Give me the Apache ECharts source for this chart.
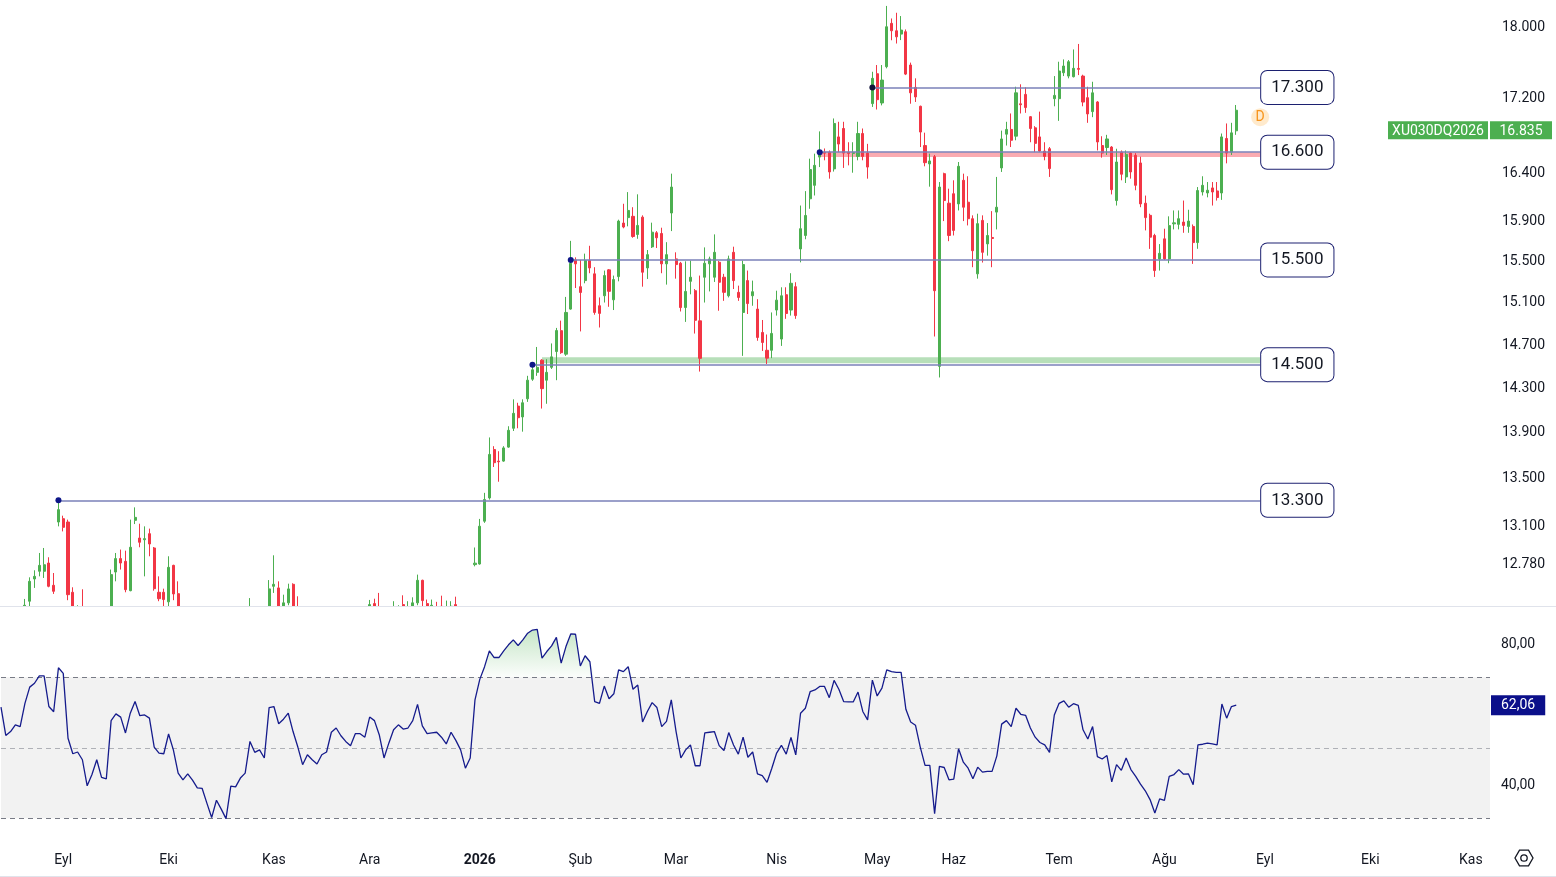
<!DOCTYPE html>
<html><head><meta charset="utf-8">
<script src="https://cdn.jsdelivr.net/npm/echarts@6/dist/echarts.min.js"></script>
<style>html,body{margin:0;padding:0;background:#fff}#c{width:1556px;height:877px}</style>
</head><body><div id="c"></div>
<script>
// ---- Daily candles of XU030DQ2026, each row: [open, close, low, high] ----
const candlesAug2025 = [
[12300,12350,12250,12400],[12340,12250,12200,12380],[12250,12270,12210,12320],[12270,12300,12240,12360],
[12300,12290,12230,12350],[12300,12440,12260,12490],[12472,12631,12430,12663],[12650,12671,12578,12720],
[12712,12760,12671,12861],[12712,12765,12658,12902],[12779,12591,12583,12826],[12599,12551,12530,12698],
[13117,13221,13081,13290]];
const candlesSep2025 = [
[13145,13073,13039,13170],[13117,12524,12480,13137],[12543,12300,12250,12583],[12250,12380,12200,12440],
[12390,12250,12200,12567],[12250,12000,11950,12300],[12000,12080,11950,12150],[12080,12200,12050,12260],
[12200,12050,12000,12250],[12050,12030,11980,12120],[12040,12685,12020,12726],[12706,12815,12631,12861],
[12815,12779,12726,12889],[12793,12564,12543,12880],[12556,12908,12551,13137],[13131,13156,13100,13240],
[12984,12949,12908,13103],[12970,12979,12671,13081],[13020,12935,12834,13062],[12902,12572,12556,12910],
[12543,12492,12472,12671],[12543,12485,12432,12572]];
const candlesOct2025 = [
[12467,12744,12400,12834],[12760,12530,12480,12765],[12532,12300,12250,12631],[12300,12220,12170,12350],
[12220,12260,12180,12320],[12260,12200,12150,12300],[12200,12130,12080,12250],[12130,12120,12060,12200],
[12120,11980,11940,12150],[11980,11820,11780,12000],[11820,11930,11800,11980],[11930,11860,11820,11970],
[11860,11740,11700,11900],[11750,11980,11720,12010],[11980,11975,11920,12040],[11975,12040,11940,12090],
[12040,12080,12000,12140],[12080,12380,12060,12497],[12380,12290,12250,12400],[12290,12310,12250,12380],
[12310,12250,12200,12350],[12260,12570,12240,12641]];
const candlesNov2025 = [
[12591,12607,12538,12842],[12578,12380,12350,12631],[12350,12459,12320,12524],[12459,12570,12440,12612],
[12607,12380,12350,12615],[12390,12300,12250,12511],[12300,12180,12150,12330],[12180,12240,12150,12290],
[12240,12200,12160,12280],[12200,12160,12110,12250],[12160,12230,12130,12270],[12230,12250,12190,12300],
[12250,12370,12230,12400],[12370,12395,12330,12410],[12395,12340,12300,12405],[12340,12300,12260,12370],
[12300,12270,12230,12340],[12270,12350,12250,12390],[12350,12355,12300,12400],[12355,12330,12290,12395]];
const candlesDec2025 = [
[12330,12445,12300,12482],[12453,12420,12380,12492],[12410,12300,12270,12538],[12300,12180,12150,12320],
[12180,12250,12160,12290],[12250,12330,12230,12472],[12330,12380,12300,12440],[12445,12360,12330,12519],
[12360,12400,12320,12472],[12390,12459,12360,12503],[12459,12639,12440,12685],[12639,12477,12424,12644],
[12453,12380,12350,12485],[12380,12440,12360,12485],[12420,12390,12340,12467],[12432,12380,12350,12516],
[12380,12400,12350,12477],[12400,12432,12380,12472],[12445,12400,12370,12508],[12400,12330,12290,12410],
[12330,12200,12160,12350],[12200,12260,12170,12300],[12766,12778,12752,12906]];
const candlesJan2026 = [
[12771,13082,12766,13143],[13124,13306,13110,13363],[13320,13694,13306,13843],[13737,13622,13585,13766],
[13636,13630,13458,13722],[13636,13751,13630,13766],[13758,13906,13752,13942],[13924,14057,13900,14183],
[14122,14018,13924,14152],[14025,14152,13894,14183],[14188,14357,14160,14397],[14366,14452,14351,14520],
[14429,14475,14397,14664],[14541,14280,14100,14550],[14357,14429,14143,14550],[14475,14572,14460,14697],
[14621,14818,14357,14843],[14817,14611,14600,14912],[14597,14990,14581,15139],[15022,15467,15016,15689],
[15500,15461,15225,15525]];
const candlesFeb2026 = [
[15238,15182,14810,15500],[15297,15493,15271,15562],[15493,15421,15369,15640],[15363,14990,14968,15428],
[15054,14981,14847,15134],[15150,15346,15085,15395],[15402,15193,15044,15410],[15111,15307,15013,15346],
[15336,15888,15290,15902],[15868,15828,15815,16064],[15923,15996,15835,16184],[15936,15733,15720,16029],
[15753,15844,15710,16161],[15928,15379,15238,15946],[15421,15552,15313,15598],[15629,15776,15618,15872],
[15770,15720,15618,15787],[15763,15461,15369,15821],[15461,15552,15258,15676],[15970,16236,15787,16375]];
const candlesMar2026 = [
[15510,15454,15316,15575],[15467,15037,14999,15480],[15037,15192,14900,15486],[15290,15330,15164,15493],
[15199,14915,14790,15215],[14910,14558,14436,15346],[15330,15467,15085,15624],[15461,15510,15192,15532],
[15330,15575,15284,15754],[15477,15281,15006,15490],[15330,15183,15101,15363],[15150,15510,15134,15542],
[15575,15297,15215,15631],[15183,15134,15101,15248],[14990,15454,14581,15493],[15297,15075,14975,15395],
[15150,15189,15054,15297],[15022,14753,14722,15117],[14800,14706,14627,14918],[14633,14560,14506,14781],
[14633,14791,14560,14990]];
const candlesApr2026 = [
[15013,15108,14960,15199],[14738,15150,14674,15232],[15160,14980,14929,15232],[15013,15271,14960,15369],
[15238,14960,14929,15281],[15609,15811,15476,16046],[15743,15945,15705,16194],[16115,16418,16013,16532],
[16254,16462,16149,16585],[16549,16601,16444,16822],[16600,16590,16515,16640],[16601,16393,16323,16619],
[16425,16907,16397,16961],[16763,16687,16601,16925],[16853,16591,16435,16925],[16598,16588,16462,16706],
[16588,16598,16385,16706],[16556,16799,16515,16925],[16799,16556,16515,16853],[16591,16444,16323,16689],
[17122,17400,17086,17473]];
const candlesMay2026 = [
[17451,17165,17058,17548],[17129,17381,17103,17548],[17529,17981,17511,18221],[18020,17935,17827,18076],
[17935,17866,17790,18142],[17897,17943,17829,18104],[17924,17447,17436,17950],[17548,17240,17121,17575],
[17300,17195,17140,17400],[17093,16815,16655,17100],[16671,16490,16452,16808],[16477,16508,16240,16585],
[16553,15199,14762,16571],[14484,16236,14382,16288],[16375,16097,15888,16385],[16070,15743,15686,16219]];
const candlesJun2026 = [
[16167,15794,15743,16306],[16063,16452,15996,16497],[16306,16029,15888,16375],[16080,15912,15844,16348],
[15912,15591,15428,15946],[15363,15862,15316,15963],[15895,15575,15474,15946],[15659,15743,15542,15868],
[15723,15713,15428,15989],[15979,16029,15804,16341],[16435,16741,16393,16830],[16792,16843,16671,16925],
[16843,16727,16655,17015],[16771,17240,16727,17307],[17120,17110,17015,17334],[17223,17079,17022,17300],
[16980,16853,16706,16987],[16860,16694,16601,16878],[16763,16612,16601,17035],[16612,16556,16515,16706],
[16637,16428,16341,16655],[17176,17212,17093,17425]];
const candlesJul2026 = [
[17176,17481,16935,17585],[17462,17537,17425,17611],[17425,17585,17400,17604],[17418,17511,17410,17723],
[17510,17500,17436,17785],[17425,17139,17093,17440],[17187,17010,16914,17307],[17035,17240,16975,17362],
[17140,16709,16619,17150],[16671,16591,16543,16770],[16650,16741,16571,16785],[16655,16209,16160,16665],
[16097,16497,16046,16637],[16601,16369,16306,16619],[16341,16577,16278,16619],[16591,16393,16323,16601],
[16567,16254,16203,16591],[16487,16063,16029,16553],[16070,15923,15794,16148],[15946,15726,15609,15963],
[15743,15395,15333,15760],[15510,15565,15395,15657]];
const candlesAug2026 = [
[15709,15510,15500,15811],[15510,15842,15467,15936],[15860,15870,15804,15996],[15855,15912,15804,15996],
[15878,15844,15770,16097],[15834,15888,15770,16003],[15834,15672,15461,15854],[15672,16200,15610,16236],
[16185,16254,16149,16348],[16175,16203,16130,16288],[16227,16185,16046,16288],[16196,16128,16097,16288],
[16175,16763,16104,16799],[16746,16591,16483,16907],[16601,16806,16571,16914],[16828,17050,16785,17107]];

// ---- RSI values per trading day ----
const rsiAug2025 = [61.5,53.5,54.6,56.5,56.0,62.6,67.2,68.3,70.4,70.4,61.7,60.2,72.7];
const rsiSep2025 = [71.1,52.7,48.3,48.8,46.6,39.2,42.4,46.6,41.6,41.2,57.7,59.6,58.7,54.2,59.8,63.1,59.1,59.3,58.4,50.2,48.5,48.3];
const rsiOct2025 = [53.9,49.4,42.8,40.9,42.6,40.8,38.6,38.5,34.3,30.2,35.1,32.6,29.9,39.1,38.9,41.4,42.8,51.8,48.7,49.4,47.1,61.4];
const rsiNov2025 = [61.7,56.8,58.1,59.8,54.6,50.2,45.2,48.0,46.6,45.4,48.0,48.8,54.4,55.6,53.4,51.8,50.6,54.0,54.0,53.0];
const rsiDec2025 = [58.7,57.7,53.7,47.1,51.3,55.1,56.5,55.3,55.6,57.7,62.3,56.2,54.0,54.2,54.4,53.0,51.1,54.4,52.1,49.4,44.2,47.1,63.6];
const rsiJan2026 = [69.4,73.0,77.5,75.6,75.6,77.5,79.2,80.6,79.0,80.6,82.5,83.4,83.6,75.4,77.3,78.9,81.3,74.0,78.7,82.3,82.2];
const rsiFeb2026 = [73.2,76.1,74.4,63.1,62.6,67.5,63.9,65.3,72.1,71.6,73.0,66.6,67.8,57.3,60.3,62.8,61.4,56.0,57.5,63.6];
const rsiMar2026 = [54.6,47.1,49.4,50.8,44.9,44.9,54.2,54.4,54.6,50.6,49.2,54.3,50.8,48.2,53.0,47.3,48.8,42.6,42.1,40.2,44.2];
const rsiApr2026 = [48.5,50.7,48.2,52.9,48.0,59.8,61.2,65.9,66.4,67.4,67.4,64.2,69.1,66.6,63.1,63.0,63.0,65.8,60.3,57.9,69.2];
const rsiMay2026 = [64.7,66.9,72.1,71.6,71.4,71.4,60.9,57.3,56.4,50.2,45.0,45.0,31.3,44.7,44.4,40.9];
const rsiJun2026 = [41.1,49.7,45.9,44.2,41.2,44.5,43.1,43.3,43.3,47.7,56.7,57.7,56.0,61.2,59.5,59.2,55.6,53.0,51.5,50.8,48.7,59.3];
const rsiJul2026 = [62.6,63.3,61.5,62.5,62.0,55.1,52.5,56.0,47.5,46.8,47.8,40.3,45.2,43.6,47.1,43.8,41.9,39.7,37.8,35.3,31.5,35.5];
const rsiAug2026 = [35.1,41.9,42.4,43.8,42.5,42.6,39.5,50.8,51.0,51.3,51.1,50.8,62.4,58.4,61.7,62.06];

// ---- axis / labels ----
const monthNames = ['Ağu','Eyl','Eki','Kas','Ara','2026','Şub','Mar','Nis','May','Haz','Tem','Ağu','Eyl','Eki','Kas'];
const monthTradingDays = [13,22,22,20,23,21,20,21,21,16,22,22,21,22,21,5];
const priceTicks = [12780,13100,13500,13900,14300,14700,15100,15500,15900,16400,17200,18000];
const rsiTicks = [40,80];
const priceRange = [12434,18290];
const rsiRange = [24.4,89.93];
const rsiLevels = [70,50,30];

// ---- annotations (price levels drawn from a start bar) ----
const levelPrices = [17300,16600,15500,14500,13300];
const levelStartBars = [182,171,119,111,12];
const levelEndBar = 263;
const supportZone = [14512,14568];
const supportZoneStartBar = 113;
const resistanceZone = [16549,16600];
const resistanceZoneStartBar = 171;
const dividendMarker = {bar:263, price:16975, text:'D'};
const symbolName = 'XU030DQ2026';
const lastPrice = 16835;
const lastRsi = 62.06;

// ---- build ----
const FF = 'Roboto, "Liberation Sans", Arial, sans-serif';
const TXT = '#131722';
const UP = '#4caf50', DOWN = '#f23645';
const fmtPrice = n => String(Math.round(n)).replace(/\B(?=(\d{3})+(?!\d))/g, '.');
const fmtRsi = v => v.toFixed(2).replace('.', ',');
const L = Math.log;

const categories = [];
monthTradingDays.forEach((n, m) => { for (let k = 0; k < n; k++) categories.push(m + ':' + k); });

const allCandles = [].concat(candlesAug2025, candlesSep2025, candlesOct2025, candlesNov2025, candlesDec2025,
  candlesJan2026, candlesFeb2026, candlesMar2026, candlesApr2026, candlesMay2026, candlesJun2026,
  candlesJul2026, candlesAug2026);
const candleData = allCandles.map(c => c.map(L));
const allRsi = [].concat(rsiAug2025, rsiSep2025, rsiOct2025, rsiNov2025, rsiDec2025, rsiJan2026, rsiFeb2026,
  rsiMar2026, rsiApr2026, rsiMay2026, rsiJun2026, rsiJul2026, rsiAug2026);
const obLevel = rsiLevels[0];
const obBase = allRsi.map(() => obLevel);
const obExcess = allRsi.map(v => Math.max(v - obLevel, 0));

const LINE_C = '#7a81b8';
const markLineData = levelPrices.map((p, k) => [
  {coord: [levelStartBars[k], L(p)], label: {formatter: fmtPrice(p)}},
  {coord: [levelEndBar, L(p)]}
]);
const markPointData = levelPrices.map((p, k) => ({
  coord: [levelStartBars[k], L(p)], symbol: 'circle', symbolSize: 6,
  itemStyle: {color: k === 0 ? '#10123a' : '#0d1688'}, label: {show: false}
}));
markPointData.push({
  coord: [dividendMarker.bar, L(dividendMarker.price)], symbol: 'circle', symbolSize: 18,
  itemStyle: {color: 'rgba(255,152,0,0.2)'},
  label: {show: true, formatter: dividendMarker.text, color: '#f7931a', fontSize: 14, fontFamily: FF, position: 'inside'}
});

const hideAxis = {axisLine: {show: false}, axisTick: {show: false}, splitLine: {show: false}};
// tick label text sits ~2px lower than a plain centred label
const tickRich = {t: {padding: [4, 0, 0, 0], color: TXT, fontSize: 14, fontFamily: FF}};

const chart = echarts.init(document.getElementById('c'), null, {renderer: 'canvas'});
const gearPts = [];
for (let a = 0; a < 6; a++) gearPts.push([1524 + 9 * Math.cos(a * Math.PI / 3), 858 + 9 * Math.sin(a * Math.PI / 3)]);

const PRICE_GRID = {left: 1, top: 0, width: 1489, height: 606};
const RSI_GRID = {left: 1, top: 607, width: 1489, height: 231};

chart.setOption({
  animation: false,
  backgroundColor: '#ffffff',
  textStyle: {fontFamily: FF},
  grid: [PRICE_GRID, RSI_GRID],
  xAxis: [
    Object.assign({gridIndex: 0, type: 'category', data: categories, boundaryGap: false, axisLabel: {show: false}}, hideAxis),
    Object.assign({gridIndex: 1, type: 'category', data: categories, boundaryGap: false,
      axisLabel: {
        interval: (idx, val) => { const p = val.split(':'); return p[1] === '0' && p[0] !== '0'; },
        formatter: val => { const m = +val.split(':')[0]; return m === 5 ? '{b|' + monthNames[m] + '}' : monthNames[m]; },
        color: TXT, fontSize: 14, fontFamily: FF, margin: 15,
        rich: {b: {fontWeight: 'bold', fontSize: 14, color: TXT, fontFamily: FF}}
      }}, hideAxis)
  ],
  yAxis: [
    Object.assign({gridIndex: 0, type: 'value', position: 'right', min: L(priceRange[0]), max: L(priceRange[1]),
      axisLabel: {customValues: priceTicks.map(L), formatter: v => '{t|' + fmtPrice(Math.exp(v)) + '}', margin: 12,
        color: TXT, fontSize: 14, fontFamily: FF, rich: tickRich}}, hideAxis),
    Object.assign({gridIndex: 0, type: 'value', position: 'right', min: L(priceRange[0]), max: L(priceRange[1]),
      axisLabel: {customValues: [L(lastPrice)], margin: -102,
        formatter: () => '{n|' + symbolName + '}{g| }{p|' + fmtPrice(lastPrice) + '}',
        rich: {
          n: {backgroundColor: UP, color: '#fff', fontSize: 14, fontFamily: FF, lineHeight: 17, padding: [3, 5, 1, 5], width: 90, align: 'center'},
          g: {width: 2, fontSize: 10},
          p: {backgroundColor: UP, color: '#fff', fontSize: 14, fontFamily: FF, lineHeight: 17, padding: [3, 5, 1, 5], width: 52, align: 'center'}
        }}}, hideAxis),
    Object.assign({gridIndex: 1, type: 'value', position: 'right', min: rsiRange[0], max: rsiRange[1],
      axisLabel: {customValues: rsiTicks, formatter: v => '{t|' + fmtRsi(v) + '}', margin: 11, color: TXT, fontSize: 14, fontFamily: FF,
        rich: tickRich}}, hideAxis),
    Object.assign({gridIndex: 1, type: 'value', position: 'right', min: rsiRange[0], max: rsiRange[1],
      axisLabel: {customValues: [lastRsi], formatter: v => fmtRsi(v), margin: 1, color: '#fff', fontSize: 14, fontFamily: FF,
        backgroundColor: '#0b0f8a', padding: [3, 10, 1, 10], lineHeight: 16}}, hideAxis)
  ],
  series: [
    {
      type: 'candlestick', xAxisIndex: 0, yAxisIndex: 0, data: candleData, barWidth: 2.6, clip: true, z: 2,
      itemStyle: {color: UP, color0: DOWN, borderColor: UP, borderColor0: DOWN, borderWidth: 1},
      markArea: {
        silent: true, z: 1,
        data: [
          [{coord: [supportZoneStartBar, L(supportZone[0])], itemStyle: {color: 'rgba(76,175,80,0.4)'}}, {coord: [levelEndBar, L(supportZone[1])]}],
          [{coord: [resistanceZoneStartBar, L(resistanceZone[0])], itemStyle: {color: 'rgba(242,54,69,0.42)'}}, {coord: [levelEndBar, L(resistanceZone[1])]}]
        ]
      },
      markLine: {
        silent: true, symbol: ['none', 'none'],
        lineStyle: {color: LINE_C, width: 1.6, type: 'solid'},
        label: {show: true, position: 'end', distance: 1, color: TXT, fontSize: 17, fontFamily: FF, lineHeight: 21,
          backgroundColor: '#ffffff', borderColor: '#1c2070', borderWidth: 1, borderRadius: 6, padding: [7, 10, 5, 10]},
        emphasis: {disabled: true},
        data: markLineData
      },
      markPoint: {silent: true, data: markPointData}
    },
    {
      type: 'line', xAxisIndex: 1, yAxisIndex: 2, data: obBase, stack: 'ob', symbol: 'none',
      lineStyle: {width: 0, opacity: 0}, silent: true, z: 4
    },
    {
      type: 'line', xAxisIndex: 1, yAxisIndex: 2, data: obExcess, stack: 'ob', symbol: 'none',
      lineStyle: {width: 0, opacity: 0}, silent: true, z: 4,
      areaStyle: {color: new echarts.graphic.LinearGradient(0, 0, 0, 1, [
        {offset: 0, color: 'rgba(76,175,80,0.45)'}, {offset: 1, color: 'rgba(76,175,80,0.03)'}])}
    },
    {
      type: 'line', xAxisIndex: 1, yAxisIndex: 2, data: allRsi, symbol: 'none', z: 4,
      lineStyle: {color: '#151b8c', width: 1.3},
      markArea: {silent: true, z: 3.5, itemStyle: {color: '#f2f2f2'}, data: [[{yAxis: rsiLevels[2]}, {yAxis: rsiLevels[0]}]]},
      markLine: {
        silent: true, z: 3.6, symbol: ['none', 'none'], label: {show: false},
        data: [
          {yAxis: rsiLevels[0], lineStyle: {color: '#787b86', type: [5, 4], width: 1}},
          {yAxis: rsiLevels[1], lineStyle: {color: 'rgba(120,123,134,0.55)', type: [5, 4], width: 1}},
          {yAxis: rsiLevels[2], lineStyle: {color: '#787b86', type: [5, 4], width: 1}}
        ]
      }
    }
  ],
  graphic: [
    // pane mask: hides the part of the price candles that falls below the price pane
    {type: 'rect', silent: true, z: 3,
      shape: {x: 0, y: RSI_GRID.top, width: RSI_GRID.left + RSI_GRID.width, height: RSI_GRID.height},
      style: {fill: '#ffffff'}},
    {type: 'line', silent: true, z: 10, shape: {x1: 0, y1: 606.5, x2: 1556, y2: 606.5}, style: {stroke: '#e0e3eb', lineWidth: 1}},
    {type: 'line', silent: true, z: 10, shape: {x1: 0, y1: 876.5, x2: 1556, y2: 876.5}, style: {stroke: '#e0e3eb', lineWidth: 1}},
    {type: 'polygon', silent: true, shape: {points: gearPts}, style: {fill: 'none', stroke: TXT, lineWidth: 1.3}},
    {type: 'circle', silent: true, shape: {cx: 1524, cy: 858, r: 3.2}, style: {fill: 'none', stroke: TXT, lineWidth: 1.3}}
  ]
});
</script>
</body></html>
